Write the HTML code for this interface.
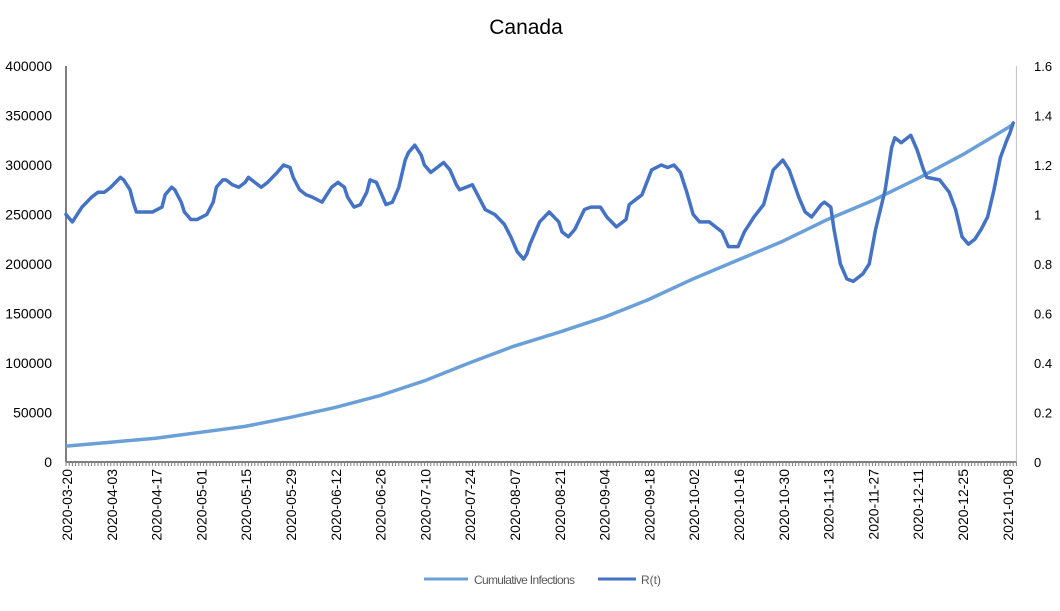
<!DOCTYPE html>
<html><head><meta charset="utf-8">
<style>
body{margin:0;background:#fff;width:1060px;height:606px;overflow:hidden;font-family:"Liberation Sans",sans-serif;}
svg text{font-family:"Liberation Sans",sans-serif;}
</style></head>
<body>
<svg id="chart" width="1060" height="606" viewBox="0 0 1060 606" xmlns="http://www.w3.org/2000/svg">
<text x="526" y="34" font-size="21" text-anchor="middle" fill="#000">Canada</text>
<g id="axes"></g>
<g id="series"></g>
<g>
<line x1="424" y1="579" x2="468" y2="579" stroke="#6A9FD8" stroke-width="3"/>
<text x="474" y="584" font-size="12" fill="#595959" textLength="101">Cumulative Infections</text>
<line x1="598" y1="579" x2="636" y2="579" stroke="#4472C4" stroke-width="3"/>
<text x="641" y="584" font-size="12" fill="#595959">R(t)</text>
</g>
</svg>
<script>
const leftTicks=[0,50000,100000,150000,200000,250000,300000,350000,400000];
const rightTicks=["0","0.2","0.4","0.6","0.8","1","1.2","1.4","1.6"];
const dateLabels=["2020-03-20","2020-04-03","2020-04-17","2020-05-01","2020-05-15","2020-05-29","2020-06-12","2020-06-26","2020-07-10","2020-07-24","2020-08-07","2020-08-21","2020-09-04","2020-09-18","2020-10-02","2020-10-16","2020-10-30","2020-11-13","2020-11-27","2020-12-11","2020-12-25","2021-01-08"];
const cumDays=[0,14,28,42,56,70,84,98,112,126,140,154,168,182,196,210,224,238,252,266,280,294,296];
const cumValues=[16000,20000,24000,30000,36000,45000,55000,67000,82000,100000,117000,131000,146000,164000,185000,204000,223000,245000,264000,286000,310000,337000,341000];
const rDays=[0,2,3,5,8,10,12,14,17,18,20,21,22,27,30,31,33,34,36,37,39,41,44,46,47,49,50,52,54,56,57,59,61,63,66,68,70,71,73,75,77,80,81,83,85,87,88,90,92,94,95,97,99,100,102,104,106,107,109,111,112,114,116,118,120,122,123,127,129,131,134,137,139,141,143,144,145,148,151,154,155,157,159,162,164,167,169,172,175,176,180,183,186,188,190,192,194,196,198,201,205,207,210,212,215,218,221,224,226,229,231,233,236,237,239,240,242,244,246,249,251,253,256,258,259,261,263,264,266,268,269,273,276,278,280,282,284,286,288,290,292,294,295,296];
const rValues=[1.00,0.97,0.99,1.03,1.07,1.09,1.09,1.11,1.15,1.14,1.10,1.05,1.01,1.01,1.03,1.08,1.11,1.10,1.05,1.01,0.98,0.98,1.00,1.05,1.11,1.14,1.14,1.12,1.11,1.13,1.15,1.13,1.11,1.13,1.17,1.20,1.19,1.15,1.10,1.08,1.07,1.05,1.07,1.11,1.13,1.11,1.07,1.03,1.04,1.09,1.14,1.13,1.07,1.04,1.05,1.11,1.22,1.25,1.28,1.24,1.20,1.17,1.19,1.21,1.18,1.12,1.10,1.12,1.07,1.02,1.00,0.96,0.91,0.85,0.82,0.84,0.88,0.97,1.01,0.97,0.93,0.91,0.94,1.02,1.03,1.03,0.99,0.95,0.98,1.04,1.08,1.18,1.20,1.19,1.20,1.17,1.09,1.00,0.97,0.97,0.93,0.87,0.87,0.93,0.99,1.04,1.18,1.22,1.18,1.07,1.01,0.99,1.04,1.05,1.03,0.94,0.80,0.74,0.73,0.76,0.80,0.94,1.10,1.27,1.31,1.29,1.31,1.32,1.26,1.18,1.15,1.14,1.09,1.02,0.91,0.88,0.90,0.94,0.99,1.10,1.23,1.30,1.33,1.37];

const NS="http://www.w3.org/2000/svg";
const X0=66,PXD=3.2,YB=462,YT=66,NDAYS=297;
const xs=d=>X0+d*PXD;
const yL=v=>YB-(v/400000)*(YB-YT);
const yR=v=>YB-(v/1.6)*(YB-YT);
const axes=document.getElementById('axes'),series=document.getElementById('series');
function mk(tag,attrs,parent){const e=document.createElementNS(NS,tag);for(const k in attrs)e.setAttribute(k,attrs[k]);parent.appendChild(e);return e;}

let a=mk('line',{x1:X0,y1:YT,x2:X0,y2:YB,stroke:'#7f7f7f','stroke-width':2},axes);


a=mk('line',{x1:xs(NDAYS),y1:YT,x2:xs(NDAYS),y2:YB,stroke:'#bfbfbf','stroke-width':1},axes);


a=mk('line',{x1:X0,y1:YB,x2:xs(NDAYS),y2:YB,stroke:'#7f7f7f','stroke-width':2},axes);


for(let d=0;d<=NDAYS;d++){
  const t=mk('line',{x1:xs(d),y1:YB,x2:xs(d),y2:YB+4,stroke:'#7f7f7f','stroke-width':1},axes);
  
  
}
leftTicks.forEach(v=>{
  const t=mk('text',{x:52,y:yL(v)+5,'font-size':14,'text-anchor':'end',fill:'#000'},axes);
  t.textContent=String(v);
  
  
});
rightTicks.forEach(v=>{
  const t=mk('text',{x:1034,y:yR(parseFloat(v))+5,'font-size':13,fill:'#000'},axes);
  t.textContent=v;
  
  
});
dateLabels.forEach((s,i)=>{
  const x=xs(i*14)+6;
  const t=mk('text',{x:x,y:469,'font-size':14,'text-anchor':'end',fill:'#000',transform:`rotate(-90 ${x} 469)`},axes);
  t.textContent=s;
  
  
});
let p=mk('polyline',{points:cumDays.map((d,i)=>xs(d)+','+yL(cumValues[i])).join(' '),fill:'none',stroke:'#6A9FD8','stroke-width':3.5,'stroke-linejoin':'round'},series);


p=mk('polyline',{points:rDays.map((d,i)=>xs(d)+','+yR(rValues[i])).join(' '),fill:'none',stroke:'#4472C4','stroke-width':3.5,'stroke-linejoin':'round','stroke-linecap':'round'},series);


</script>
</body></html>
